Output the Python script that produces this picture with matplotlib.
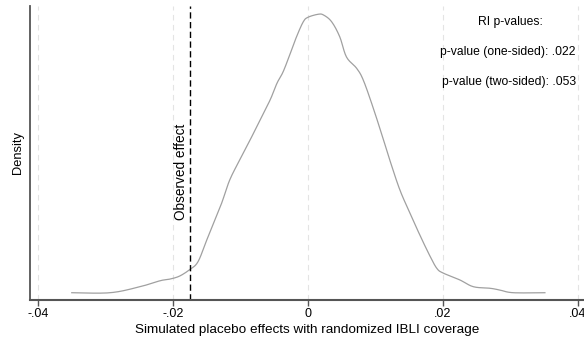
import numpy as np
import matplotlib
matplotlib.use("Agg")
import matplotlib.pyplot as plt

plt.rcParams['font.family'] = ['Liberation Sans', 'DejaVu Sans']

# kernel density of simulated placebo effects
effect = [-0.0350, -0.0293, -0.0249, -0.0219, -0.0204, -0.0190, -0.0175,
          -0.0163, -0.0150, -0.0140, -0.0128, -0.0116, -0.0101, -0.0086,
          -0.0071, -0.0056, -0.0046, -0.0037, -0.0027, -0.0017, -0.0007,
          0.0000, 0.0015, 0.0023, 0.0035, 0.0047, 0.0057, 0.0072, 0.0082,
          0.0097, 0.0112, 0.0121, 0.0136, 0.0151, 0.0166, 0.0181, 0.0191,
          0.0200, 0.0225, 0.0245, 0.0270, 0.0284, 0.0304, 0.0351]
density = [0.97, 0.97, 1.77, 2.57, 2.80, 3.20, 4.07,
           5.10, 8.00, 10.2, 12.9, 16.0, 18.7, 21.3,
           24.0, 26.7, 28.9, 30.4, 32.7, 35.1, 37.1,
           37.7, 38.1, 38.0, 37.1, 35.1, 32.4, 30.9, 29.3,
           25.5, 21.3, 18.7, 14.7, 11.6, 8.6, 5.8, 4.2,
           3.6, 2.67, 1.77, 1.56, 1.33, 0.97, 0.97]

observed = -0.01745
xticks = [-0.04, -0.02, 0, 0.02, 0.04]
xticklabels = ['-.04', '-.02', '0', '.02', '.04']
pvals = ["RI p-values:", "p-value (one-sided): .022", "p-value (two-sided): .053"]


def catmull_rom(xs, ys, n=12):
    # smooth the read-off points for drawing
    p = np.column_stack([xs, ys])
    p = np.vstack([p[0], p, p[-1]])
    out = []
    t = np.linspace(0, 1, n, endpoint=False)[:, None]
    for i in range(1, len(p) - 2):
        p0, p1, p2, p3 = p[i - 1], p[i], p[i + 1], p[i + 2]
        seg = 0.5 * ((2 * p1) + (-p0 + p2) * t
                     + (2 * p0 - 5 * p1 + 4 * p2 - p3) * t ** 2
                     + (-p0 + 3 * p1 - 3 * p2 + p3) * t ** 3)
        out.append(seg)
    out.append(p[-2][None, :])
    out = np.vstack(out)
    return out[:, 0], out[:, 1]


fig = plt.figure(figsize=(5.84, 3.43), dpi=100)
ax = fig.add_axes([0.0509, 0.1254, 0.9491, 0.8571])

for t in xticks:
    ax.axvline(t, color='#e4e4e4', lw=0.8, ls=(0, (5, 4)), zorder=0)

sx, sy = catmull_rom(effect, density)
ax.plot(sx, sy, color='#a0a0a0', lw=0.9, solid_joinstyle='round')
ax.axvline(observed, color='black', lw=1.0, ls=(0, (4.5, 2.5)))
ax.text(observed - 0.0004, 17.1, "Observed effect", rotation=90,
        ha='right', va='center', fontsize=9.8)

ax.set_xlim(-0.04123, 0.04089)
ax.set_ylim(0, 39.2)
ax.set_xticks(xticks)
ax.set_xticklabels(xticklabels, fontsize=9)
ax.set_yticks([])
ax.tick_params(axis='x', length=4, width=1, color='#555555', pad=2)

for s in ['top', 'right']:
    ax.spines[s].set_visible(False)
ax.spines['bottom'].set_color('#555555')
ax.spines['bottom'].set_linewidth(1.5)
ax.spines['left'].set_color('#555555')
ax.spines['left'].set_linewidth(1.3)

ax.set_xlabel("Simulated placebo effects with randomized IBLI coverage",
              fontsize=9.7, labelpad=3)
ax.set_ylabel("Density", fontsize=9.3, labelpad=4)

fig.text(510 / 584, 1 - 22 / 343, pvals[0], ha='center', va='center', fontsize=8.7)
fig.text(576 / 584, 1 - 52 / 343, pvals[1], ha='right', va='center', fontsize=8.7)
fig.text(576 / 584, 1 - 82 / 343, pvals[2], ha='right', va='center', fontsize=8.7)

fig.savefig("out.png", dpi=100)
